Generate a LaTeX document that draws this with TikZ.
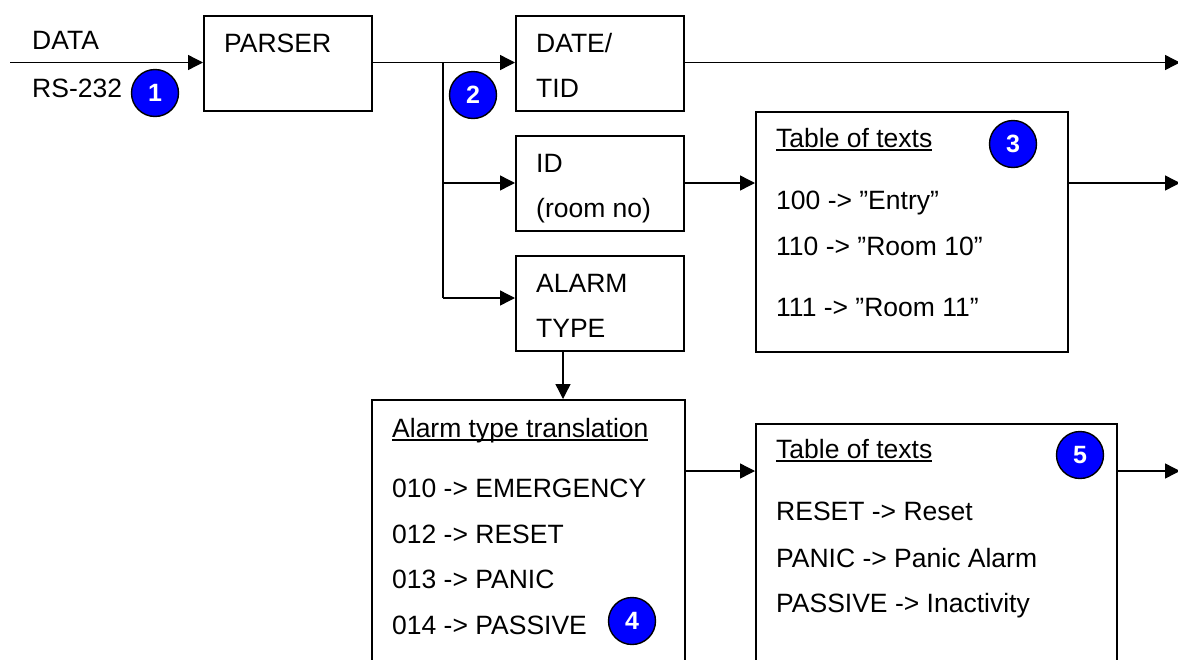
\documentclass[tikz,border=0pt]{standalone}
\usepackage{fontspec}
\setmainfont{Liberation Sans}
\usetikzlibrary{arrows.meta}
\newcommand\ulin[1]{\setbox0\hbox{#1}\rlap{\rule[-3.5pt]{\wd0}{1.4pt}}\box0}
\tikzset{
  blk/.style={draw=black, line width=1.6pt, fill=white, rectangle, anchor=north west, inner sep=0pt},
  lbl/.style={anchor=base west, inner sep=0pt, font=\fontsize{26.5}{30}\selectfont},
  conn/.style={line width=1.4pt, -{Triangle[length=15pt,width=15pt]}},
  plain/.style={line width=1.4pt},
  badge/.style={circle, draw=black, line width=1.4pt, fill=blue, minimum size=47pt, inner sep=0pt,
    text=white, font=\fontsize{25}{25}\selectfont\bfseries},
}
\begin{document}
\begin{tikzpicture}[x=1pt, y=-1pt]
\clip (0,0) rectangle (1178,659);
\fill[white] (0,0) rectangle (1178,659);

% blocks
\node[blk, minimum width=168pt, minimum height=95pt] (parser) at (203,15) {};
\node[blk, minimum width=168pt, minimum height=95pt] (date) at (515,15) {};
\node[blk, minimum width=168pt, minimum height=95pt] (id) at (515,135) {};
\node[blk, minimum width=168pt, minimum height=95pt] (alarm) at (515,255) {};
\node[blk, minimum width=312pt, minimum height=240pt] (tab3) at (755,111) {};
\node[blk, minimum width=313pt, minimum height=300pt] (trans) at (371,399) {};
\node[blk, minimum width=361pt, minimum height=300pt] (tab5) at (755,423) {};

% texts
\node[lbl] (tdata) at (32,49) {DATA};
\node[lbl] (trs) at (32,97) {RS-232};
\node[lbl] (tparser) at (224,52) {PARSER};
\node[lbl] (tdate) at (536,52) {DATE/};
\node[lbl] (ttid) at (536,97) {TID};
\node[lbl] (tid) at (536,172) {ID};
\node[lbl] (troom) at (536,217) {(room no)};
\node[lbl] (talarm) at (536,292) {ALARM};
\node[lbl] (ttype) at (536,337) {TYPE};

\node[lbl] (h3) at (776,147) {\ulin{Table of texts}};
\node[lbl] (r1) at (776,209) {100 -> ”Entry”};
\node[lbl] (r2) at (776,255) {110 -> ”Room 10”};
\node[lbl] (r3) at (776,316) {111 -> ”Room 11”};

\node[lbl] (h4) at (392,437) {\ulin{Alarm type translation}};
\node[lbl] (a1) at (392,497) {010 -> EMERGENCY};
\node[lbl] (a2) at (392,543) {012 -> RESET};
\node[lbl] (a3) at (392,588) {013 -> PANIC};
\node[lbl] (a4) at (392,634) {014 -> PASSIVE};

\node[lbl] (h5) at (776,458) {\ulin{Table of texts}};
\node[lbl] (b1) at (776,520) {RESET -> Reset};
\node[lbl] (b2) at (776,567) {PANIC -> Panic Alarm};
\node[lbl] (b3) at (776,612) {PASSIVE -> Inactivity};

% connector end points
\coordinate (src) at (10,62.5);
\coordinate (split) at (443,62.5);
\coordinate (splitid) at (443,183);
\coordinate (splital) at (443,298);
\coordinate (out1) at (1180,62.5);
\coordinate (out2) at (1180,183);
\coordinate (out3) at (1180,471);

% connectors
\draw[conn] (src) -- (parser.west |- src);
\draw[plain] (parser.east |- split) -- (split);
\draw[conn] (split) -- (date.west |- split);
\draw[plain] (split) -- (splital);
\draw[conn] (splitid) -- (id.west |- splitid);
\draw[conn] (splital) -- (alarm.west |- splital);
\draw[conn] (date.east |- out1) -- (out1);
\draw[conn] (id.east |- splitid) -- (tab3.west |- splitid);
\draw[conn] (tab3.east |- out2) -- (out2);
\draw[conn] (563,350) coordinate (ad) -- (trans.north -| ad);
\draw[conn] (trans.east |- out3) -- (tab5.west |- out3);
\draw[conn] (tab5.east |- out3) -- (out3);

% numbered badges
\node[badge] (n1) at (155,93) {1};
\node[badge] (n2) at (473,95) {2};
\node[badge] (n3) at (1013,144) {3};
\node[badge] (n4) at (632,621) {4};
\node[badge] (n5) at (1080,455) {5};
\end{tikzpicture}
\end{document}
